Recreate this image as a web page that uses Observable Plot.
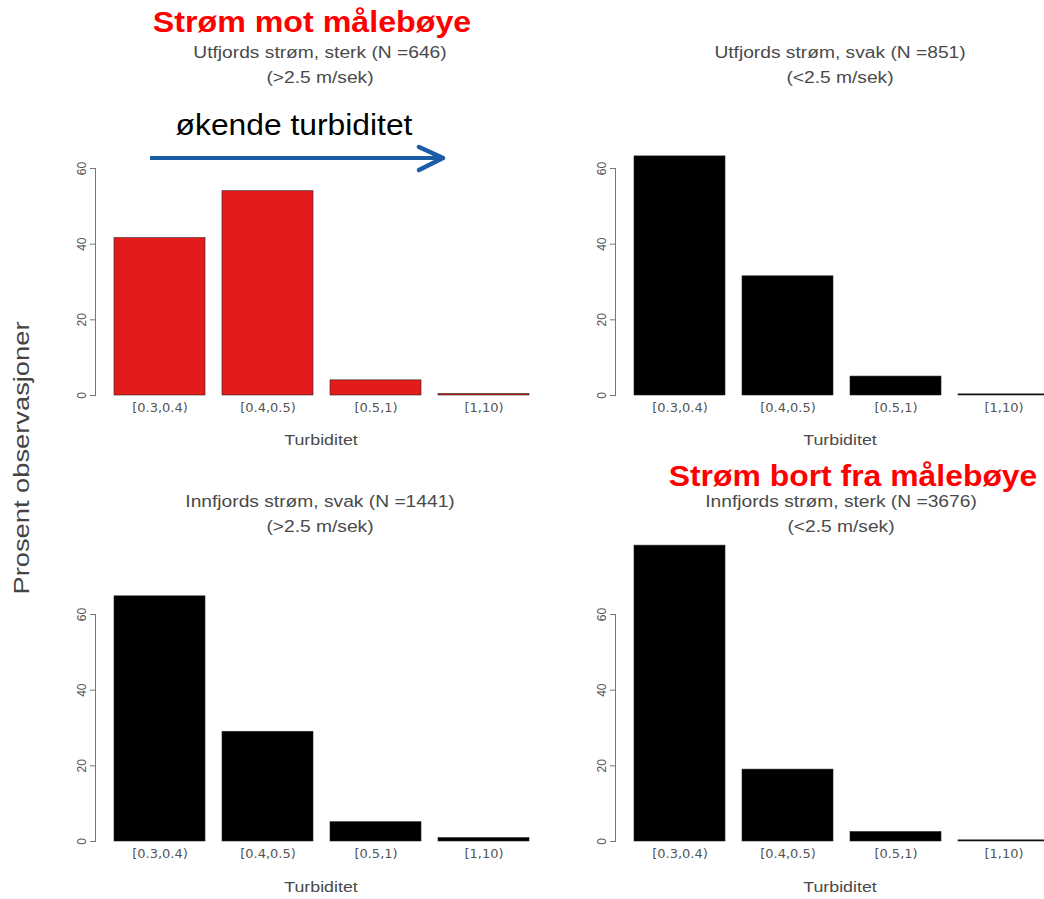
<!DOCTYPE html>
<html><head><meta charset="utf-8">
<script src="https://cdn.jsdelivr.net/npm/d3@7"></script>
<script src="https://cdn.jsdelivr.net/npm/@observablehq/plot@0.6"></script>
<style>
html,body{margin:0;padding:0;background:#fff;overflow:hidden;}
#root{position:relative;width:1044px;height:899px;overflow:hidden;font-family:"Liberation Sans",Arial,sans-serif;background:#fff;}
.lbl{position:absolute;white-space:nowrap;line-height:1;}
.panel{position:absolute;}
</style></head><body><div id="root"></div>
<script>
const categories = ["[0.3,0.4)", "[0.4,0.5)", "[0.5,1)", "[1,10)"];
const yTicks = [0, 20, 40, 60];
const panelTitles = ["Utfjords strøm, sterk (N =646)", "Utfjords strøm, svak (N =851)", "Innfjords strøm, svak (N =1441)", "Innfjords strøm, sterk (N =3676)"];
const panelSubtitles = ["(>2.5 m/sek)", "(<2.5 m/sek)", "(>2.5 m/sek)", "(<2.5 m/sek)"];
const valuesUtSterk = [41.6, 54.0, 4.0, 0.4];
const valuesUtSvak = [63.2, 31.5, 5.0, 0.3];
const valuesInnSvak = [64.8, 29.0, 5.1, 0.9];
const valuesInnSterk = [78.2, 19.0, 2.5, 0.3];
const barColors = ["#e31b1b", "#000000", "#000000", "#000000"];
const xLabel = "Turbiditet";
const yLabel = "Prosent observasjoner";
const redNotes = ["Strøm mot målebøye", "Strøm bort fra målebøye"];
const arrowNote = "økende turbiditet";

const root = document.getElementById("root");
const seriesList = [valuesUtSterk, valuesUtSvak, valuesInnSvak, valuesInnSterk];
const layout = [
  {left: 0,   top: 0,   w: 522, h: 450, mL: 95, mT: 168, mB: 55, xr: [113, 530]},
  {left: 522, top: 0,   w: 522, h: 450, mL: 93, mT: 168, mB: 55, xr: [110, 528]},
  {left: 0,   top: 450, w: 522, h: 449, mL: 95, mT: 164, mB: 58, xr: [113, 530]},
  {left: 522, top: 450, w: 522, h: 449, mL: 93, mT: 164, mB: 58, xr: [110, 528]}
];

function addText(txt, x, y, style, extra) {
  const d = document.createElement("div");
  d.className = "lbl";
  d.textContent = txt;
  d.style.left = x + "px";
  d.style.top = y + "px";
  d.style.transform = "translate(-50%,-50%) " + (extra || "");
  Object.assign(d.style, style);
  root.appendChild(d);
  return d;
}

seriesList.forEach((vals, i) => {
  const L = layout[i];
  const data = categories.map((c, j) => ({cat: c, value: vals[j]}));
  const chart = Plot.plot({
    width: L.w, height: L.h,
    marginLeft: L.mL, marginTop: L.mT, marginBottom: L.mB, marginRight: 0,
    style: {fontFamily: "'Liberation Sans', Arial, sans-serif", fontSize: "11px", color: "#555", background: "transparent", overflow: "visible"},
    x: {type: "band", domain: categories, range: L.xr, paddingInner: 0.16, paddingOuter: 0, axis: null},
    y: {domain: [0, 60], axis: null},
    marks: [
      Plot.barY(data, {x: "cat", y: "value", fill: barColors[i], stroke: "#222", strokeWidth: 0.6}),
      Plot.frame({anchor: "left", stroke: "#777"}),
      Plot.axisY({ticks: yTicks, tickSize: 5, tickRotate: -90, tickPadding: 5, tickFormat: d => String(d), label: null, fontSize: 12, color: "#555", stroke: "#777"}),
      Plot.text(categories, {x: d => d, y: () => 0, dy: 12, fontSize: 13, fontFamily: "'DejaVu Sans', sans-serif", fill: "#555"})
    ]
  });
  chart.classList.add("panel");
  chart.style.left = L.left + "px";
  chart.style.top = L.top + "px";
  root.appendChild(chart);
});

// panel titles and axis labels
const titleCenters = [[320, 53], [840, 53], [320, 502], [841, 502]];
const grey = {fontSize: "16px", color: "#4a4a4a"};
titleCenters.forEach(([x, y], i) => {
  addText(panelTitles[i], x, y, grey, "scaleX(1.2)");
  addText(panelSubtitles[i], x, y + 25, grey, "scaleX(1.2)");
});
const xl = {fontSize: "14px", color: "#4a4a4a"};
addText(xLabel, 321, 440, xl, "scaleX(1.27)");
addText(xLabel, 840, 440, xl, "scaleX(1.27)");
addText(xLabel, 321, 887, xl, "scaleX(1.27)");
addText(xLabel, 840, 887, xl, "scaleX(1.27)");
addText(yLabel, 22, 458, {fontSize: "22px", color: "#444"}, "rotate(-90deg) scaleX(1.24)");

// red annotations
const red = {fontSize: "29px", fontWeight: "bold", color: "#ff0000"};
addText(redNotes[0], 312, 22, red, "scaleX(1.11)");
addText(redNotes[1], 853, 476, red, "scaleX(1.10)");
addText(arrowNote, 294, 125, {fontSize: "30px", color: "#000"}, "scaleX(1.06)");

// arrow
const ns = "http://www.w3.org/2000/svg";
const asvg = document.createElementNS(ns, "svg");
asvg.setAttribute("width", 1044); asvg.setAttribute("height", 899);
asvg.style.position = "absolute"; asvg.style.left = "0"; asvg.style.top = "0"; asvg.style.pointerEvents = "none";
asvg.innerHTML = '<line x1="150" y1="158" x2="442" y2="158" stroke="#1a5da6" stroke-width="4"/>' +
  '<polyline points="419,147 443,158 419,170" fill="none" stroke="#1a5da6" stroke-width="4.5" stroke-linecap="round" stroke-linejoin="round"/>';
root.appendChild(asvg);
</script></body></html>
